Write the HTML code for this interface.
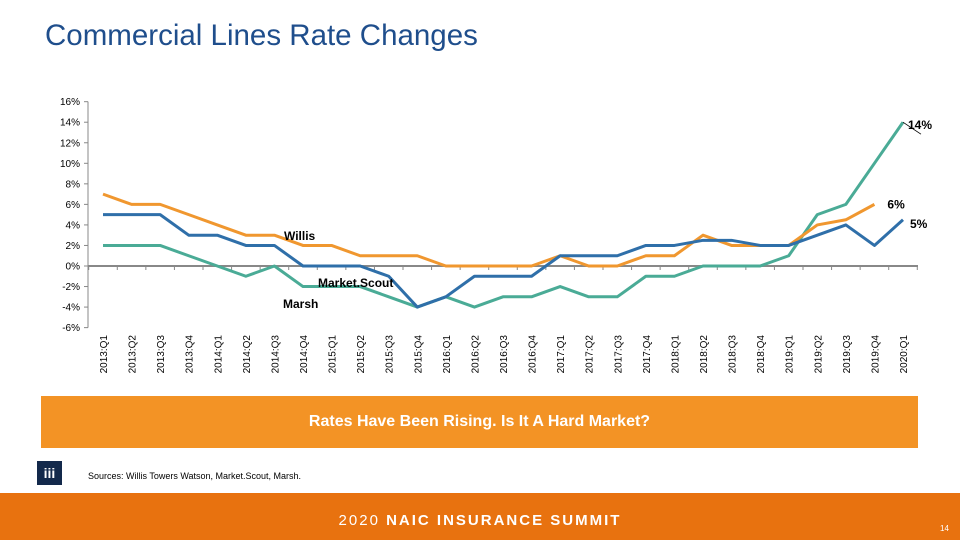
<!DOCTYPE html>
<html><head><meta charset="utf-8"><style>
body{margin:0;width:960px;height:540px;overflow:hidden;background:#fff;font-family:"Liberation Sans",sans-serif;position:relative}
.abs{position:absolute}
</style></head><body>
<div class="abs" style="left:45px;top:19px;font-size:29.5px;color:#1f4e8c">Commercial Lines Rate Changes</div>
<svg class="abs" style="left:0;top:0" width="960" height="395">
<g id="axes"></g><g id="series"></g><g id="labels"></g>
</svg>
<div class="abs" style="left:41px;top:396px;width:877px;height:52px;background:#f39325;color:#fff;font-weight:bold;font-size:16px;text-align:center;line-height:52px">Rates Have Been Rising. Is It A Hard Market?</div>
<div class="abs" style="left:37px;top:461px;width:25px;height:24px;background:#13294b;color:#fff;font-size:14px;font-weight:bold;text-align:center;line-height:24px">iii</div>
<div class="abs" style="left:88px;top:471px;font-size:9px;color:#000">Sources: Willis Towers Watson, Market.Scout, Marsh.</div>
<div class="abs" style="left:0;top:493px;width:960px;height:47px;background:#e8720f"></div>
<div class="abs" style="left:0;top:512px;width:960px;text-align:center;color:#fff;font-size:15px;letter-spacing:2px">2020 <b>NAIC INSURANCE SUMMIT</b></div>
<div class="abs" style="left:940px;top:524px;color:#fff;font-size:8px">14</div>
<script>
const categories=["2013:Q1","2013:Q2","2013:Q3","2013:Q4","2014:Q1","2014:Q2","2014:Q3","2014:Q4","2015:Q1","2015:Q2","2015:Q3","2015:Q4","2016:Q1","2016:Q2","2016:Q3","2016:Q4","2017:Q1","2017:Q2","2017:Q3","2017:Q4","2018:Q1","2018:Q2","2018:Q3","2018:Q4","2019:Q1","2019:Q2","2019:Q3","2019:Q4","2020:Q1"];
const willis=[7,6,6,5,4,3,3,2,2,1,1,1,0,0,0,0,1,0,0,1,1,3,2,2,2,4,4.5,6,null];
const marketScout=[5,5,5,3,3,2,2,0,0,0,-1,-4,-3,-1,-1,-1,1,1,1,2,2,2.5,2.5,2,2,3,4,2,4.5];
const marsh=[2,2,2,1,0,-1,0,-2,-2,-2,-3,-4,-3,-4,-3,-3,-2,-3,-3,-1,-1,0,0,0,1,5,6,10,14];
const yTicks=[16,14,12,10,8,6,4,2,0,-2,-4,-6];
const NS="http://www.w3.org/2000/svg";
const x0=103,dx=800/28,x=i=>x0+i*dx,y=v=>266-v*10.27;
function mk(t,a,p){const e=document.createElementNS(NS,t);for(const k in a)e.setAttribute(k,a[k]);p.appendChild(e);return e;}
const ax=document.getElementById('axes'),sg=document.getElementById('series'),lg=document.getElementById('labels');
let yl=mk('line',{x1:88,x2:88,y1:y(16),y2:y(-6),stroke:'#888'},ax);


yTicks.forEach(v=>{mk('line',{x1:84,x2:88,y1:y(v),y2:y(v),stroke:'#888'},ax);
 const t=mk('text',{x:80,y:y(v)+3.5,'text-anchor':'end','font-size':10,fill:'#000'},ax);t.textContent=v+'%';
 
 });
let xl=mk('line',{x1:88,x2:918,y1:y(0),y2:y(0),stroke:'#888','stroke-width':2},ax);


categories.forEach((c,i)=>{mk('line',{x1:x(i)-dx/2,x2:x(i)-dx/2,y1:y(0),y2:y(0)+4,stroke:'#888'},ax);
 const t=mk('text',{transform:`translate(${x(i)+4},335) rotate(-90)`,'text-anchor':'end','font-size':10,fill:'#000'},ax);t.textContent=c;
 
 });
mk('line',{x1:x(28)+dx/2,x2:x(28)+dx/2,y1:y(0),y2:y(0)+4,stroke:'#888'},ax);
function line(d,col,name){const pts=d.map((v,i)=>v==null?null:x(i)+','+y(v)).filter(p=>p);
 const p=mk('polyline',{points:pts.join(' '),fill:'none',stroke:col,'stroke-width':3,'stroke-linejoin':'round'},sg);
 
 }
line(marsh,'#4aab96','marsh-line');line(willis,'#f0972f','willis-line');line(marketScout,'#2f6fa9','marketscout-line');
function lab(txt,px,py,name){const t=mk('text',{x:px,y:py,'font-size':12,'font-weight':'bold',fill:'#000'},lg);t.textContent=txt;
 
 }
lab('Willis',284,240,'willis-label');lab('Market.Scout',318,287,'marketscout-label');lab('Marsh',283,308,'marsh-label');
lab('14%',x(28)+5,y(marsh[28])+7,'marsh-end-label');lab('6%',x(27)+13,y(willis[27])+4,'willis-end-label');lab('5%',x(28)+7,y(marketScout[28])+8,'marketscout-end-label');
mk('line',{x1:x(28),y1:y(14),x2:x(28)+18,y2:y(14)+12,stroke:'#000','stroke-width':0.8},lg);
</script>
</body></html>
